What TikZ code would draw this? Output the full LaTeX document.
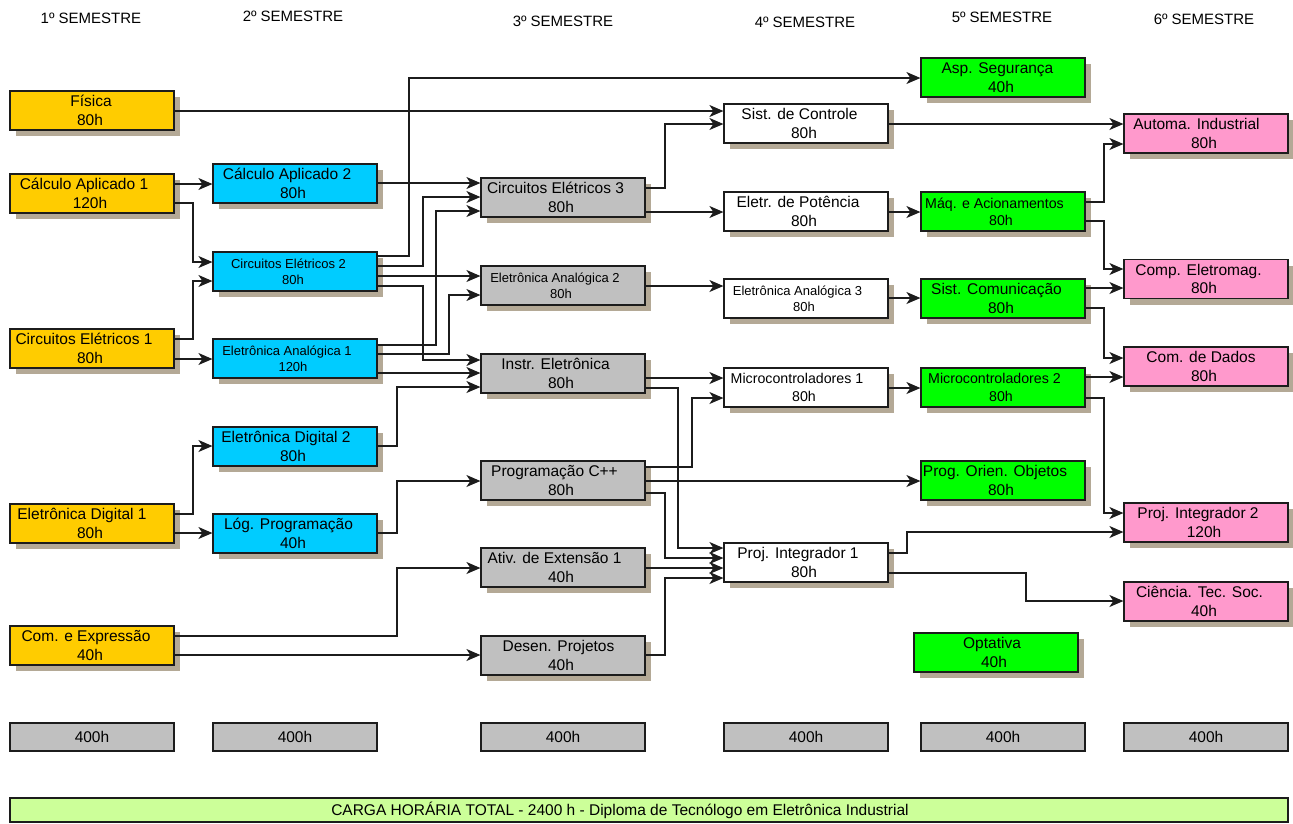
\documentclass[tikz,border=0pt]{standalone}
\usepackage{fontspec}
\setmainfont{Liberation Sans}
\usetikzlibrary{shadows,arrows.meta}
\definecolor{cyel}{HTML}{FFCC00}
\definecolor{ccya}{HTML}{00CCFF}
\definecolor{cgry}{HTML}{C0C0C0}
\definecolor{cgrn}{HTML}{00FF00}
\definecolor{cpnk}{HTML}{FF99CC}
\definecolor{clgr}{HTML}{CCFF99}
\definecolor{cshd}{RGB}{180,169,150}
\definecolor{cline}{HTML}{1C1C1C}
% two-line box text, first line set slightly left of centre as in the reference
\newcommand{\twol}[3][16pt]{#2\hspace*{#1}\\#3\hspace*{4pt}}
\begin{document}
\begin{tikzpicture}[x=1pt,y=-1pt,
  box/.style={draw=cline, line width=1.2pt, minimum width=164pt, minimum height=39pt,
    inner sep=0pt, align=center, font=\fontsize{15.5}{18.5}\selectfont,
    drop shadow={shadow xshift=6pt, shadow yshift=-6pt, opacity=1, fill=cshd}},
  sm/.style={font=\fontsize{13}{16}\selectfont},
  md/.style={font=\fontsize{14.2}{17.3}\selectfont},
  s1/.style={box, fill=cyel},
  s2/.style={box, fill=ccya},
  s3/.style={box, fill=cgry},
  s4/.style={box, fill=white},
  s5/.style={box, fill=cgrn},
  s6/.style={box, fill=cpnk},
  tot/.style={draw=cline, line width=1.2pt, fill=cgry, minimum width=164pt, minimum height=28pt,
    inner sep=0pt, font=\fontsize{15.5}{18.5}\selectfont},
  hdr/.style={font=\fontsize{15}{18}\selectfont, inner sep=0pt},
  arr/.style={draw=cline, line width=1.2pt, -{Stealth[length=14pt,width=12pt,inset=4pt]}}
]
\useasboundingbox (0,0) rectangle (1293,823);

% headers
\node[hdr] (h1) at (91,18) {1º SEMESTRE};
\node[hdr] (h2) at (293,16) {2º SEMESTRE};
\node[hdr] (h3) at (563,21) {3º SEMESTRE};
\node[hdr] (h4) at (805,22) {4º SEMESTRE};
\node[hdr] (h5) at (1002,17) {5º SEMESTRE};
\node[hdr] (h6) at (1204,19) {6º SEMESTRE};

% column 1
\node[s1] (fis) at (92,110.5) {\twol[2pt]{Física}{80h}};
\node[s1] (ca1) at (92,193.5) {\twol{Cálculo Aplicado 1}{120h}};
\node[s1] (ce1) at (92,348.5) {\twol{Circuitos Elétricos 1}{80h}};
\node[s1] (ed1) at (92,523.5) {\twol[20pt]{Eletrônica Digital 1}{80h}};
\node[s1] (cex) at (92,645.5) {\twol[12pt]{Com. e Expressão}{40h}};

% column 2
\node[s2] (ca2) at (295,183.5) {\twol{Cálculo Aplicado 2}{80h}};
\node[s2,sm] (ce2) at (295,271.5) {\twol[13pt]{Circuitos Elétricos 2}{80h}};
\node[s2,sm] (ea1) at (295,358.5) {\twol{Eletrônica Analógica 1}{120h}};
\node[s2] (ed2) at (295,446.5) {\twol[18pt]{Eletrônica Digital 2}{80h}};
\node[s2] (lp) at (295,533.5) {\twol[13pt]{Lóg. Programação}{40h}};

% column 3
\node[s3] (ce3) at (563,197.5) {\twol[15pt]{Circuitos Elétricos 3}{80h}};
\node[s3,sm] (ea2) at (563,285.5) {\twol{Eletrônica Analógica 2}{80h}};
\node[s3] (ie) at (563,373.5) {\twol[15pt]{Instr. Eletrônica}{80h}};
\node[s3] (pc) at (563,480.5) {\twol[17pt]{Programação C++}{80h}};
\node[s3] (ae) at (563,567.5) {\twol[17pt]{Ativ. de Extensão 1}{40h}};
\node[s3] (dp) at (563,655.5) {\twol[9pt]{Desen. Projetos}{40h}};

% column 4
\node[s4] (sc) at (806,123.5) {\twol[13pt]{Sist. de Controle}{80h}};
\node[s4] (ep) at (806,211.5) {\twol{Eletr. de Potência}{80h}};
\node[s4,sm] (ea3) at (806,298.5) {\twol[17pt]{Eletrônica Analógica 3}{80h}};
\node[s4,md] (mc1) at (806,387.5) {\twol[18pt]{Microcontroladores 1}{80h}};
\node[s4] (pi1) at (806,562.5) {\twol{Proj. Integrador 1}{80h}};

% column 5
\node[s5] (as) at (1003,77.5) {\twol[11pt]{Asp. Segurança}{40h}};
\node[s5,md] (mq) at (1003,211.5) {\twol[17pt]{Máq. e Acionamentos}{80h}};
\node[s5] (scm) at (1003,298.5) {\twol[13pt]{Sist. Comunicação}{80h}};
\node[s5,md] (mc2) at (1003,387.5) {\twol[17pt]{Microcontroladores 2}{80h}};
\node[s5] (poo) at (1003,480.5) {\twol{Prog. Orien. Objetos}{80h}};
\node[s5] (opt) at (996,652.5) {\twol[8pt]{Optativa}{40h}};

% column 6
\node[s6] (ai) at (1206,133.5) {\twol[19pt]{Automa. Industrial}{80h}};
\node[s6] (cem) at (1206,279) {\twol[15pt]{Comp. Eletromag.}{80h}};
\node[s6] (cd) at (1206,366.5) {\twol[10pt]{Com. de Dados}{80h}};
\node[s6] (pi2) at (1206,522.5) {\twol{Proj. Integrador 2}{120h}};
\node[s6] (cts) at (1206,601.5) {\twol[13pt]{Ciência. Tec. Soc.}{40h}};

% totals
\node[tot] (t1) at (92,737) {400h};
\node[tot] (t2) at (295,737) {400h};
\node[tot] (t3) at (563,737) {400h};
\node[tot] (t4) at (806,737) {400h};
\node[tot] (t5) at (1003,737) {400h};
\node[tot] (t6) at (1206,737) {400h};
\node[draw=cline, line width=1.2pt, fill=clgr, minimum width=1278pt, minimum height=24pt, inner sep=0pt,
  font=\fontsize{15.5}{18.5}\selectfont] (tot) at (649,810) {CARGA HORÁRIA TOTAL - 2400 h - Diploma de Tecnólogo em Eletrônica Industrial\hspace*{58pt}};

% connectors
\draw[arr] (fis.east |- 0,111) -- (sc.west |- 0,111);
\draw[arr] (ca1.east |- 0,184) -- (ca2.west |- 0,184);
\draw[arr] (ca1.east |- 0,203) -- (193,203) |- (ce2.west |- 0,262);
\draw[arr] (ce1.east |- 0,339) -- (193,339) |- (ce2.west |- 0,281);
\draw[arr] (ce1.east |- 0,359) -- (ea1.west |- 0,359);
\draw[arr] (ed1.east |- 0,514) -- (193,514) |- (ed2.west |- 0,446);
\draw[arr] (ed1.east |- 0,533) -- (lp.west |- 0,533);
\draw[arr] (cex.east |- 0,636) -- (397,636) |- (ae.west |- 0,568);
\draw[arr] (cex.east |- 0,655) -- (dp.west |- 0,655);

\draw[arr] (ca2.east |- 0,183) -- (ce3.west |- 0,183);
\draw[arr] (ce2.east |- 0,256) -- (409,256) |- (as.west |- 0,78);
\draw[arr] (ce2.east |- 0,266) -- (423,266) |- (ce3.west |- 0,197);
\draw[arr] (ce2.east |- 0,276) -- (ea2.west |- 0,276);
\draw[arr] (ce2.east |- 0,286) -- (423,286) |- (ie.west |- 0,360);
\draw[arr] (ea1.east |- 0,345) -- (436,345) |- (ce3.west |- 0,211);
\draw[arr] (ea1.east |- 0,354) -- (449,354) |- (ea2.west |- 0,295);
\draw[arr] (ea1.east |- 0,373) -- (ie.west |- 0,373);
\draw[arr] (ed2.east |- 0,446) -- (397,446) |- (ie.west |- 0,387);
\draw[arr] (lp.east |- 0,533) -- (397,533) |- (pc.west |- 0,481);

\draw[arr] (ce3.east |- 0,188) -- (665,188) |- (sc.west |- 0,124);
\draw[arr] (ce3.east |- 0,212) -- (ep.west |- 0,212);
\draw[arr] (ea2.east |- 0,286) -- (ea3.west |- 0,286);
\draw[arr] (ie.east |- 0,378) -- (mc1.west |- 0,378);
\draw[arr] (ie.east |- 0,388) -- (678,388) |- (pi1.west |- 0,548);
\draw[arr] (pc.east |- 0,467) -- (692,467) |- (mc1.west |- 0,398);
\draw[arr] (pc.east |- 0,481) -- (poo.west |- 0,481);
\draw[arr] (pc.east |- 0,493) -- (665,493) |- (pi1.west |- 0,558);
\draw[arr] (ae.east |- 0,568) -- (pi1.west |- 0,568);
\draw[arr] (dp.east |- 0,655) -- (665,655) |- (pi1.west |- 0,578);

\draw[arr] (sc.east |- 0,124) -- (ai.west |- 0,124);
\draw[arr] (ep.east |- 0,212) -- (mq.west |- 0,212);
\draw[arr] (ea3.east |- 0,298) -- (scm.west |- 0,298);
\draw[arr] (mc1.east |- 0,388) -- (mc2.west |- 0,388);
\draw[arr] (pi1.east |- 0,553) -- (907,553) |- (pi2.west |- 0,532);
\draw[arr] (pi1.east |- 0,573) -- (1026,573) |- (cts.west |- 0,601);

\draw[arr] (mq.east |- 0,202) -- (1104,202) |- (ai.west |- 0,144);
\draw[arr] (mq.east |- 0,221) -- (1104,221) |- (cem.west |- 0,269);
\draw[arr] (scm.east |- 0,288) -- (cem.west |- 0,288);
\draw[arr] (scm.east |- 0,308) -- (1104,308) |- (cd.west |- 0,358);
\draw[arr] (mc2.east |- 0,377) -- (cd.west |- 0,377);
\draw[arr] (mc2.east |- 0,398) -- (1104,398) |- (pi2.west |- 0,513);
\end{tikzpicture}
\end{document}
